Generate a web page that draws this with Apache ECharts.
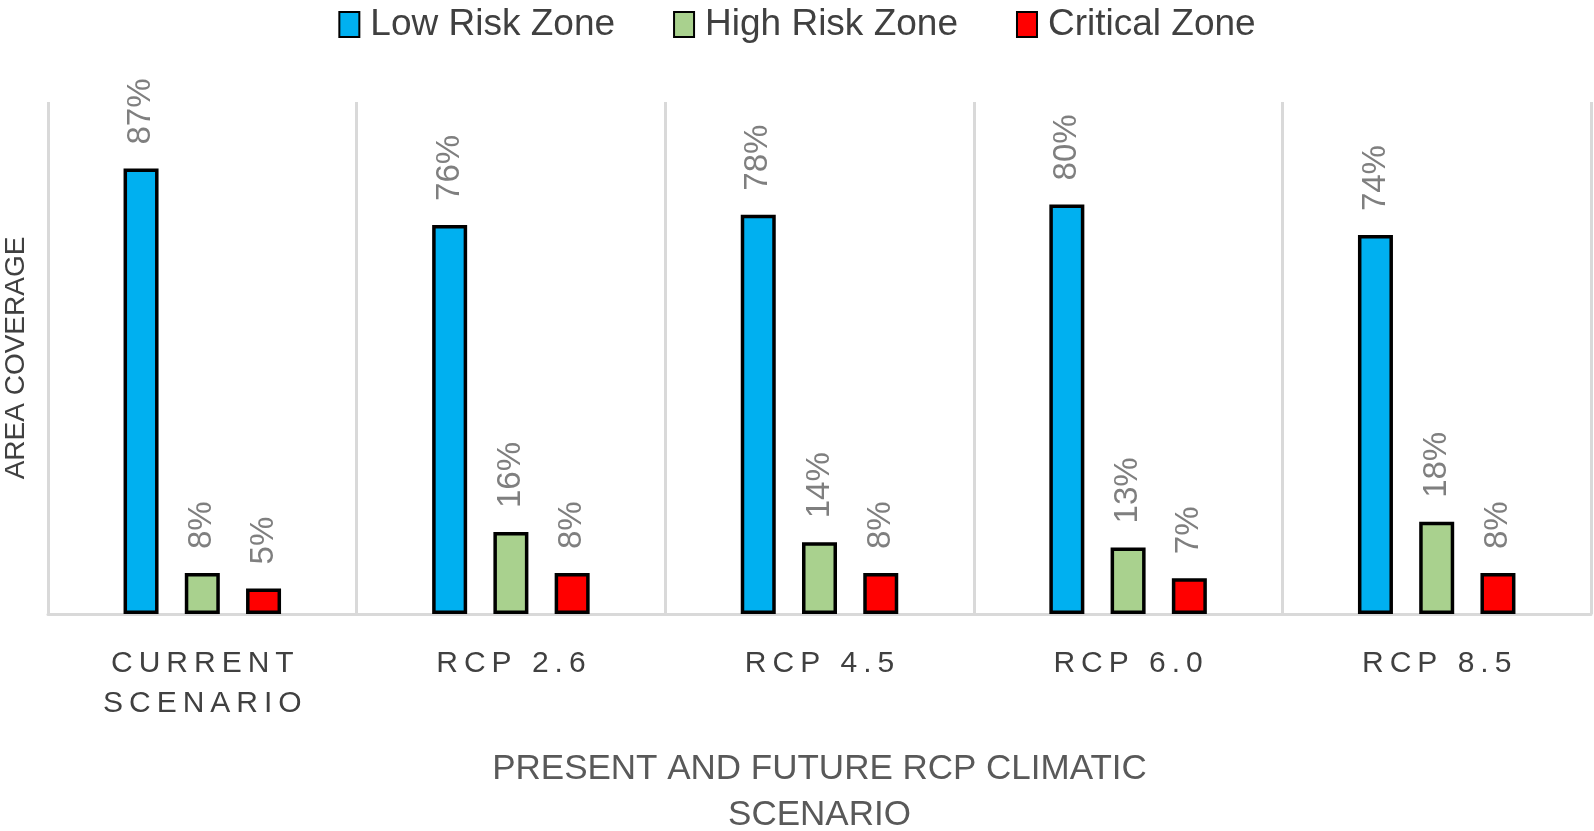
<!DOCTYPE html>
<html>
<head>
<meta charset="utf-8">
<script src="https://cdn.jsdelivr.net/npm/echarts@6/dist/echarts.min.js"></script>
<style>
  html, body { margin: 0; padding: 0; background: #fff; }
  #chart { width: 1594px; height: 831px; }
</style>
</head>
<body>
<div id="chart"></div>
<script>
var scenarios = ['CURRENT\nSCENARIO', 'RCP 2.6', 'RCP 4.5', 'RCP 6.0', 'RCP 8.5'];
var lowRisk = [87, 76, 78, 80, 74];
var highRisk = [8, 16, 14, 13, 18];
var critical = [5, 8, 8, 7, 8];

var FONT = "'Liberation Sans', sans-serif";

var myChart = echarts.init(document.getElementById('chart'), null, {
    renderer: 'canvas'
});

// spread letters out a little, like the widened category text of the original
var spaced = function(value) {
    return value.split('\n').map(function(line) {
        return line.split('').map(function(ch) {
            return '{s|' + ch + '}';
        }).join('');
    }).join('\n');
};

var makeSeries = function(name, data, color) {
    return {
        name: name,
        type: 'bar',
        data: data,
        barWidth: 35,
        barGap: '75%',
        itemStyle: {
            color: color,
            borderColor: '#000',
            borderWidth: 3.5
        },
        label: {
            show: true,
            position: 'top',
            rotate: 90,
            align: 'left',
            verticalAlign: 'middle',
            distance: 24,
            formatter: '{c}%',
            color: '#7f7f7f',
            fontSize: 33,
            fontFamily: FONT
        }
    };
};

var option = {
    animation: false,
    textStyle: { fontFamily: FONT },
    legend: {
        top: 1,
        left: 'center',
        itemWidth: 20,
        itemHeight: 25,
        itemGap: 58,
        icon: 'rect',
        textStyle: {
            fontSize: 37,
            color: '#404040',
            fontFamily: FONT,
            padding: [0, 0, 0, 6]
        },
        data: ['Low Risk Zone', 'High Risk Zone', 'Critical Zone']
    },
    grid: {
        left: 48,
        right: 3,
        top: 102,
        bottom: 217,
        outerBoundsMode: 'none'
    },
    xAxis: {
        type: 'category',
        data: scenarios,
        axisTick: { show: false },
        axisLine: { lineStyle: { color: '#d9d9d9', width: 3 } },
        splitLine: {
            show: true,
            interval: 0,
            lineStyle: { color: '#d9d9d9', width: 3 }
        },
        axisLabel: {
            interval: 0,
            hideOverlap: false,
            color: '#404040',
            fontSize: 30,
            lineHeight: 40,
            margin: 30,
            fontFamily: FONT,
            formatter: spaced,
            rich: {
                s: {
                    fontSize: 30,
                    lineHeight: 40,
                    color: '#404040',
                    padding: [0, 3],
                    fontFamily: FONT
                }
            }
        },
        name: 'PRESENT AND FUTURE RCP CLIMATIC\nSCENARIO',
        nameLocation: 'middle',
        nameGap: 132,
        nameTextStyle: {
            color: '#595959',
            fontSize: 35,
            lineHeight: 46,
            fontFamily: FONT
        }
    },
    yAxis: {
        type: 'value',
        min: 0,
        max: 100,
        axisLabel: { show: false },
        axisLine: { show: false },
        axisTick: { show: false },
        splitLine: { show: false },
        name: 'AREA COVERAGE',
        nameLocation: 'middle',
        nameGap: 18,
        nameTextStyle: {
            color: '#404040',
            fontSize: 28,
            fontFamily: FONT
        }
    },
    series: [
        makeSeries('Low Risk Zone', lowRisk, '#00b0f0'),
        makeSeries('High Risk Zone', highRisk, '#a9d18e'),
        makeSeries('Critical Zone', critical, '#ff0000')
    ]
};

myChart.setOption(option);
window.addEventListener('resize', myChart.resize);
</script>
</body>
</html>
